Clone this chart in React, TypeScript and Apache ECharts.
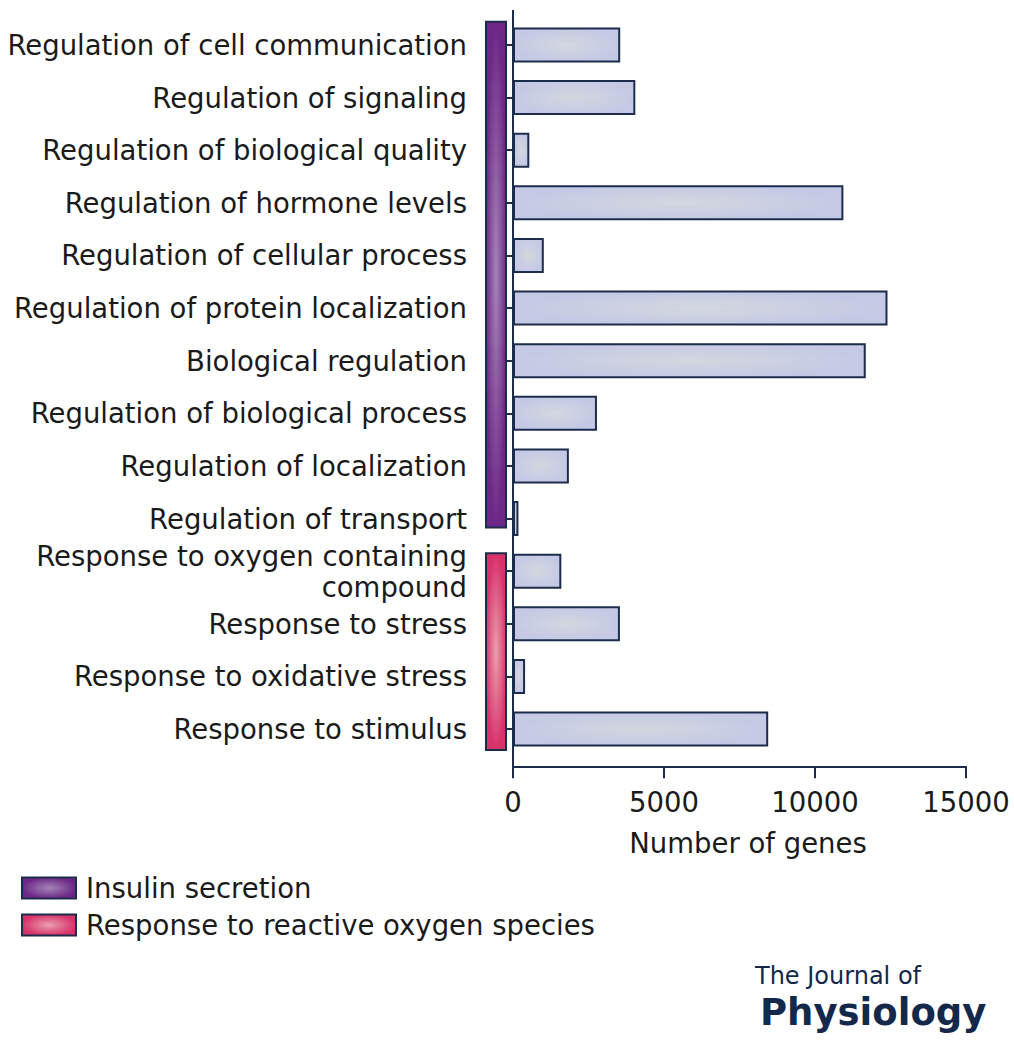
import React, { useEffect, useRef } from "react";
import * as echarts from "echarts";

const categories = [
  "Regulation of cell communication",
  "Regulation of signaling",
  "Regulation of biological quality",
  "Regulation of hormone levels",
  "Regulation of cellular process",
  "Regulation of protein localization",
  "Biological regulation",
  "Regulation of biological process",
  "Regulation of localization",
  "Regulation of transport",
  "Response to oxygen containing\ncompound",
  "Response to stress",
  "Response to oxidative stress",
  "Response to stimulus",
];
const geneCounts = [3550, 4050, 540, 10940, 1020, 12400, 11680, 2780, 1850, 180, 1600, 3540, 400, 8450];
const groupNames = ["Insulin secretion", "Response to reactive oxygen species"];
const groupFirstCategory = [0, 10];
const groupLastCategory = [9, 13];
const xTicks = { min: 0, max: 15000, interval: 5000 };
const axisName = "Number of genes";

// layout / style
const FONT = "DejaVu Sans";
const NAVY = "#1c2d4c";
const LOGO = "#14284b";
const TEXT = "#1a1a1a";
const GRID_LEFT = 513;
const GRID_TOP = 18.7;
const GRID_RIGHT = 48;
const GRID_BOTTOM = 294.7;
const STRIP_PAD = [
  [-0.44, 0.17],
  [-0.34, 0.4],
];
const groupGradients = [
  ["#a584b8", "#6d2786"],
  ["#e9a0ae", "#d8326a"],
];

const radial = (c0: string, c1: string) =>
  new echarts.graphic.RadialGradient(0.5, 0.5, 0.5, [
    { offset: 0, color: c0 },
    { offset: 1, color: c1 },
  ]);

export default function App() {
  const ref = useRef<HTMLDivElement>(null);
  useEffect(() => {
    document.body.style.margin = "0";
    const chart = echarts.init(ref.current!, null, { renderer: "svg" });

    const stripSeries = groupNames.map((name, g) => ({
      type: "custom",
      name,
      coordinateSystem: "cartesian2d",
      clip: false,
      itemStyle: { color: radial(groupGradients[g][0], groupGradients[g][1]), borderColor: NAVY, borderWidth: 2 },
      data: [[groupFirstCategory[g], groupLastCategory[g]]],
      encode: { x: -1, y: [0, 1] },
      renderItem: (params: any, api: any) => {
        const s = api.value(0);
        const e = api.value(1);
        const p0 = api.coord([0, s]);
        const p1 = api.coord([0, e]);
        const band = Math.abs(api.coord([0, s + 1])[1] - p0[1]);
        const y0 = p0[1] + STRIP_PAD[g][0] * band;
        const y1 = p1[1] + STRIP_PAD[g][1] * band;
        return {
          type: "rect",
          shape: { x: p0[0] - 27, y: y0, width: 20, height: y1 - y0 },
          style: {
            fill: radial(groupGradients[g][0], groupGradients[g][1]),
            stroke: NAVY,
            lineWidth: 2,
          },
        };
      },
    }));

    chart.setOption({
      animation: false,
      textStyle: { fontFamily: FONT },
      grid: { left: GRID_LEFT, right: GRID_RIGHT, top: GRID_TOP, bottom: GRID_BOTTOM, containLabel: false },
      xAxis: {
        type: "value",
        min: xTicks.min,
        max: xTicks.max,
        interval: xTicks.interval,
        offset: 11,
        axisLine: { show: true, lineStyle: { color: NAVY, width: 2 } },
        axisTick: { show: true, length: 12, lineStyle: { color: NAVY, width: 2 } },
        splitLine: { show: false },
        axisLabel: {
          fontSize: 27.5,
          color: TEXT,
          margin: 22,
          fontFamily: FONT,
          formatter: (v: number) => String(v),
        },
        name: axisName,
        nameLocation: "middle",
        nameGap: 63,
        nameTextStyle: { fontSize: 27.5, color: TEXT, fontFamily: FONT, padding: [0, 0, 0, 17] },
      },
      yAxis: {
        type: "category",
        inverse: true,
        data: categories,
        axisLine: { show: false },
        axisTick: { show: true, alignWithLabel: true, length: 7, lineStyle: { color: NAVY, width: 2 } },
        axisLabel: { fontSize: 27.5, color: TEXT, margin: 46, lineHeight: 31, fontFamily: FONT, interval: 0 },
      },
      legend: {
        orient: "vertical",
        left: 21,
        top: 874,
        padding: 0,
        itemWidth: 54,
        itemHeight: 21,
        itemGap: 9,
        icon: "rect",
        textStyle: { fontSize: 27.5, color: TEXT, fontFamily: FONT, lineHeight: 21, padding: [0, 0, 0, 5] },
        data: groupNames.map((name, g) => ({
          name,
          icon: "rect",
          itemStyle: { color: radial(groupGradients[g][0], groupGradients[g][1]), borderColor: NAVY, borderWidth: 2 },
        })),
      },
      graphic: [
        {
          type: "line",
          silent: true,
          z: 10,
          shape: { x1: GRID_LEFT, y1: 10, x2: GRID_LEFT, y2: 766 },
          style: { stroke: NAVY, lineWidth: 2 },
        },
        {
          type: "text",
          left: 755,
          top: 964,
          style: { text: "The Journal of", font: '24px "DejaVu Sans"', lineHeight: 24, fill: LOGO },
        },
        {
          type: "text",
          left: 760,
          top: 994,
          style: { text: "Physiology", font: 'bold 37px "DejaVu Sans"', lineHeight: 37, fill: LOGO },
        },
      ],
      series: [
        {
          type: "bar",
          name: axisName,
          data: geneCounts,
          barWidth: 35,
          itemStyle: {
            color: radial("#d2d7df", "#c6c9e5"),
            borderColor: NAVY,
            borderWidth: 2,
          },
        },
        ...stripSeries,
      ],
    });
    return () => chart.dispose();
  }, []);
  return <div ref={ref} style={{ width: 1014, height: 1050 }} />;
}
